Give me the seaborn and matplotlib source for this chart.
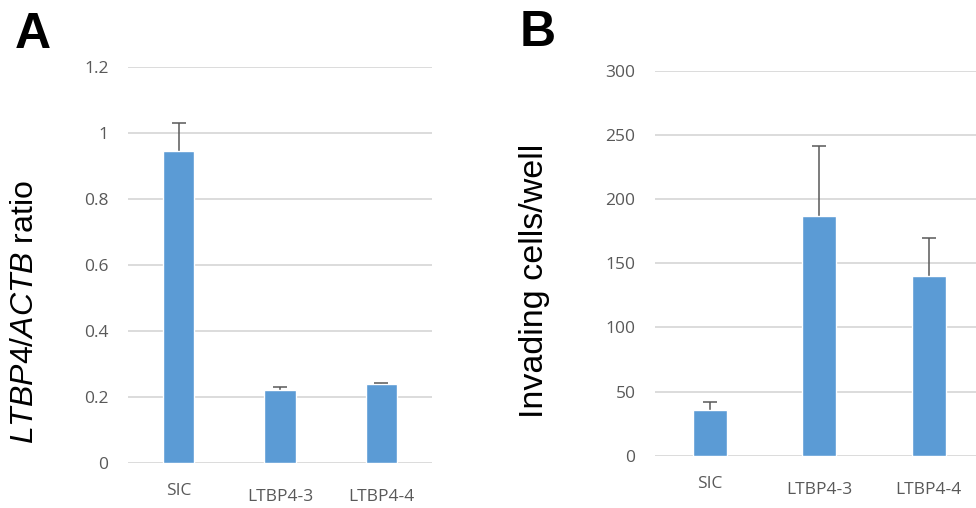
import matplotlib
matplotlib.use("Agg")
import matplotlib.pyplot as plt
import matplotlib.transforms as mtransforms
import seaborn as sns

sns.set_theme(style="white")
plt.rcParams['font.family'] = ['Liberation Sans', 'DejaVu Sans']
plt.rcParams['mathtext.fontset'] = 'custom'
plt.rcParams['mathtext.it'] = 'Liberation Sans:italic'
plt.rcParams['mathtext.rm'] = 'Liberation Sans'

# data
groups = ["SIC", "LTBP4-3", "LTBP4-4"]
ratio_mean = [0.944, 0.221, 0.240]
ratio_err = [0.085, 0.009, 0.002]
invading_mean = [35.4, 186.7, 140.2]
invading_err = [6.2, 54.7, 29.1]

bar_col = "#5B9BD5"
grid_col = "#D9D9D9"
text_col = "#595959"
tick_font = ['Open Sans', 'DejaVu Sans']

fig = plt.figure(figsize=(9.76, 5.08), dpi=100)
axA = fig.add_axes([128/976, 1-463/508, 304/976, 396/508])
axB = fig.add_axes([655/976, 1-455.7/508, 328.5/976, 385/508])


def panel(ax, vals, errs, ymax, ystep):
    sns.barplot(x=groups, y=vals, order=groups, color=bar_col, saturation=1,
                width=0.31, errorbar=None, ax=ax, zorder=3)
    # symmetric bars drawn behind the columns, so only the upper half shows
    ax.errorbar(range(len(groups)), vals, yerr=errs, fmt="none",
                ecolor=text_col, elinewidth=1.1, capsize=5, capthick=1.1, zorder=2)
    ax.set_xlim(-0.5, 2.5)
    ax.set_ylim(0, ymax)
    ticks = [i*ystep for i in range(int(round(ymax/ystep))+1)]
    ax.set_yticks(ticks)
    ax.set_yticklabels([("%g" % t) for t in ticks])
    ax.yaxis.grid(True, color=grid_col, linewidth=1.3, zorder=0)
    ax.set_axisbelow(True)
    for s in ax.spines.values():
        s.set_visible(False)
    ax.tick_params(axis="y", length=0, pad=14, labelsize=12.5, labelcolor=text_col)
    ax.tick_params(axis="x", length=0, pad=14.5, labelsize=12.5, labelcolor=text_col)
    for lab in ax.get_yticklabels() + ax.get_xticklabels():
        lab.set_family(tick_font)
    # the long names sit a little lower than SIC
    for lab in ax.get_xticklabels()[1:]:
        lab.set_transform(lab.get_transform() +
                          mtransforms.ScaledTranslation(0, -6/100, fig.dpi_scale_trans))
    ax.set_xlabel("")
    ax.set_ylabel("")


panel(axA, ratio_mean, ratio_err, 1.2, 0.2)
panel(axB, invading_mean, invading_err, 300, 50)

fig.text(25/976, 1-312/508, r"$\mathit{LTBP4/ACTB}$ ratio", rotation=90,
         ha="center", va="center", fontsize=23, color="black")
fig.text(535/976, 1-280.5/508, "Invading cells/well", rotation=90,
         ha="center", va="center", fontsize=24.5, color="black")

fig.text(15/976, 1-48.3/508, "A", fontsize=36, fontweight="bold", color="black",
         ha="left", va="baseline")
fig.text(520/976, 1-45.7/508, "B", fontsize=36, fontweight="bold", color="black",
         ha="left", va="baseline")

fig.savefig("out.png", dpi=100)
